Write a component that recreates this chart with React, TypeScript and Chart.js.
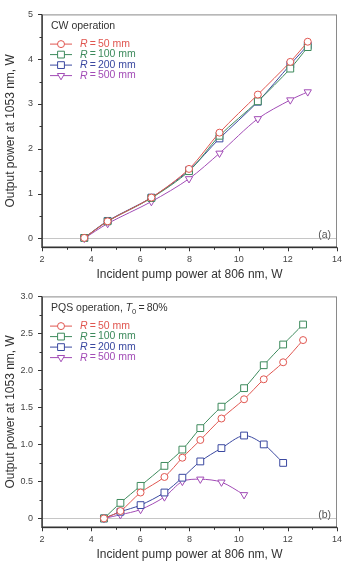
import React, { useEffect, useRef } from 'react';
import { Chart, registerables } from 'chart.js';
import { drawPoint } from 'chart.js/helpers';

Chart.register(...registerables);

const FONT = '"Liberation Sans", Arial, Helvetica, sans-serif';

// ---------- data ----------
const xTicks = [2, 4, 6, 8, 10, 12, 14];
const xTickLabels = ['2', '4', '6', '8', '10', '12', '14'];
const xMinorTicks = [3, 5, 7, 9, 11, 13];

const cwYTicks = [0, 1, 2, 3, 4, 5];
const cwYTickLabels = ['0', '1', '2', '3', '4', '5'];
const cwYMinorTicks = [0.5, 1.5, 2.5, 3.5, 4.5];

const pqsYTicks = [0, 0.5, 1, 1.5, 2, 2.5, 3];
const pqsYTickLabels = ['0', '0.5', '1.0', '1.5', '2.0', '2.5', '3.0'];
const pqsYMinorTicks = [0.25, 0.75, 1.25, 1.75, 2.25, 2.75];

const radiiMm = ['50', '100', '200', '500'];

// CW operation
const cwPump = [3.72, 4.67, 6.45, 7.98, 9.22, 10.78, 12.1, 12.81];
const cwR50 = [0.01, 0.38, 0.91, 1.55, 2.36, 3.21, 3.94, 4.39];
const cwR100 = [0.01, 0.38, 0.9, 1.5, 2.29, 3.06, 3.79, 4.27];
const cwR200 = [0.01, 0.39, 0.91, 1.52, 2.23, 3.05, 3.88, 4.31];
const cwR500 = [0.0, 0.33, 0.82, 1.33, 1.9, 2.67, 3.09, 3.27];

// PQS operation, T0 = 80%
const pqsPump = [4.52, 5.19, 6.01, 6.98, 7.71, 8.44, 9.3, 10.22, 11.02, 11.81, 12.62];
const pqsR50 = [0.0, 0.1, 0.35, 0.56, 0.82, 1.06, 1.35, 1.61, 1.88, 2.11, 2.41];
const pqsR100 = [0.0, 0.21, 0.44, 0.71, 0.93, 1.22, 1.51, 1.76, 2.07, 2.35, 2.62];
const pqsR200 = [0.0, 0.09, 0.18, 0.35, 0.55, 0.77, 0.95, 1.12, 1.0, 0.75];
const pqsR500 = [0.0, 0.05, 0.12, 0.29, 0.5, 0.53, 0.49, 0.32];

// ---------- styles ----------
const COLORS = ['#e05650', '#3d8a5c', '#3a48a0', '#a24cb6'];
const STYLES = [
  { pointStyle: 'circle', radius: 3.5, rotation: 0 },
  { pointStyle: 'rect', radius: 4.8, rotation: 0 },
  { pointStyle: 'rect', radius: 4.8, rotation: 0 },
  { pointStyle: 'triangle', radius: 4.2, rotation: 180 },
];

type Seg = { t: string; italic?: boolean; sub?: boolean };

type Spec = {
  height: number;
  plotTop: number;
  plotBottom: number;
  yMin: number;
  yMax: number;
  yTicks: number[];
  yTickLabels: string[];
  yMinor: number[];
  pump: number[];
  series: number[][];
  header: Seg[];
  corner: string;
};

const cwSpec: Spec = {
  height: 282,
  plotTop: 11,
  plotBottom: 247.3,
  yMin: -0.2,
  yMax: 5,
  yTicks: cwYTicks,
  yTickLabels: cwYTickLabels,
  yMinor: cwYMinorTicks,
  pump: cwPump,
  series: [cwR50, cwR100, cwR200, cwR500],
  header: [{ t: 'CW operation' }],
  corner: '(a)',
};

const pqsSpec: Spec = {
  height: 280,
  plotTop: 9,
  plotBottom: 245.3,
  yMin: -0.12,
  yMax: 3,
  yTicks: pqsYTicks,
  yTickLabels: pqsYTickLabels,
  yMinor: pqsYMinorTicks,
  pump: pqsPump,
  series: [pqsR50, pqsR100, pqsR200, pqsR500],
  header: [
    { t: 'PQS operation, ' },
    { t: 'T', italic: true },
    { t: '0', sub: true },
    { t: '\u2009=\u200980%' },
  ],
  corner: '(b)',
};

function drawSegs(ctx: CanvasRenderingContext2D, segs: Seg[], x: number, y: number, color: string, size: number) {
  let cx = x;
  for (const s of segs) {
    const fs = s.sub ? size * 0.72 : size;
    ctx.font = `${s.italic ? 'italic ' : ''}${fs}px ${FONT}`;
    ctx.fillStyle = color;
    ctx.textAlign = 'left';
    ctx.textBaseline = 'middle';
    ctx.fillText(s.t, cx, y + (s.sub ? size * 0.32 : 0));
    cx += ctx.measureText(s.t).width;
  }
}

function makeConfig(spec: Spec): any {
  const datasets = spec.series.map((vals, i) => ({
    label: `R = ${radiiMm[i]} mm`,
    data: vals.map((y, j) => ({ x: spec.pump[j], y })),
    borderColor: COLORS[i],
    backgroundColor: '#ffffff',
    pointBackgroundColor: '#ffffff',
    pointBorderColor: COLORS[i],
    pointStyle: STYLES[i].pointStyle,
    pointRadius: STYLES[i].radius,
    pointRotation: STYLES[i].rotation,
    pointBorderWidth: 1,
    borderWidth: 1,
    tension: 0.3,
    clip: false,
  }));

  const decor = {
    id: 'decor',
    beforeDatasetsDraw(chart: any) {
      const ctx = chart.ctx as CanvasRenderingContext2D;
      const { left, right } = chart.chartArea;
      const y0 = Math.round(chart.scales.y.getPixelForValue(0)) + 0.5;
      ctx.save();
      ctx.strokeStyle = '#c6c6c6';
      ctx.lineWidth = 1;
      ctx.beginPath();
      ctx.moveTo(left, y0);
      ctx.lineTo(right, y0);
      ctx.stroke();
      ctx.restore();
    },
    afterDatasetsDraw(chart: any) {
      const ctx = chart.ctx as CanvasRenderingContext2D;
      const { left, right, top, bottom } = chart.chartArea;
      const xs = chart.scales.x;
      const ys = chart.scales.y;
      ctx.save();
      // frame
      ctx.strokeStyle = '#8a8a8a';
      ctx.lineWidth = 1;
      ctx.strokeRect(left + 0.5, top + 0.5, right - left - 1, bottom - top);
      ctx.strokeStyle = '#333333';
      ctx.lineWidth = 1.4;
      ctx.beginPath();
      ctx.moveTo(left, top);
      ctx.lineTo(left, bottom);
      ctx.lineTo(right, bottom);
      ctx.stroke();
      // ticks
      ctx.lineWidth = 1;
      ctx.strokeStyle = '#333333';
      ctx.beginPath();
      for (const v of xTicks) {
        const p = Math.round(xs.getPixelForValue(v)) + 0.5;
        ctx.moveTo(p, bottom);
        ctx.lineTo(p, bottom + 4);
      }
      for (const v of xMinorTicks) {
        const p = Math.round(xs.getPixelForValue(v)) + 0.5;
        ctx.moveTo(p, bottom);
        ctx.lineTo(p, bottom + 2.5);
      }
      for (const v of spec.yTicks) {
        const p = Math.round(ys.getPixelForValue(v)) + 0.5;
        ctx.moveTo(left, p);
        ctx.lineTo(left - 4, p);
      }
      for (const v of spec.yMinor) {
        const p = Math.round(ys.getPixelForValue(v)) + 0.5;
        ctx.moveTo(left, p);
        ctx.lineTo(left - 2.5, p);
      }
      ctx.stroke();

      // header and legend
      drawSegs(ctx, spec.header, left + 9, top + 11.7, '#333333', 10.5);
      chart.data.datasets.forEach((ds: any, i: number) => {
        const y = top + 29.7 + i * 10.5;
        ctx.strokeStyle = COLORS[i];
        ctx.lineWidth = 1;
        ctx.beginPath();
        ctx.moveTo(left + 8, y);
        ctx.lineTo(left + 30, y);
        ctx.stroke();
        ctx.fillStyle = '#ffffff';
        ctx.strokeStyle = COLORS[i];
        drawPoint(ctx, {
          pointStyle: STYLES[i].pointStyle as any,
          radius: STYLES[i].radius,
          rotation: STYLES[i].rotation,
          borderWidth: 1,
        } as any, left + 19, y);
        drawSegs(ctx, [{ t: 'R', italic: true }, { t: `\u2009=\u2009${radiiMm[i]} mm` }], left + 38, y, COLORS[i], 10.5);
      });

      // corner label
      ctx.font = `10.5px ${FONT}`;
      ctx.fillStyle = '#555555';
      ctx.textAlign = 'right';
      ctx.textBaseline = 'middle';
      ctx.fillText(spec.corner, right - 6, ys.getPixelForValue(0) - 3);
      ctx.restore();
    },
  };

  return {
    type: 'line',
    data: { datasets },
    options: {
      animation: false,
      responsive: false,
      devicePixelRatio: 1,
      events: [],
      layout: { padding: { top: spec.plotTop, right: 6, bottom: 0, left: 0 } },
      plugins: { legend: { display: false }, tooltip: { enabled: false } },
      scales: {
        x: {
          type: 'linear',
          position: 'bottom',
          min: 2,
          max: 14,
          afterBuildTicks: (s: any) => {
            s.ticks = xTicks.map((v) => ({ value: v }));
          },
          afterFit: (s: any) => {
            s.height = spec.height - spec.plotBottom;
          },
          grid: { display: false, drawTicks: false },
          border: { display: false },
          ticks: {
            padding: 7,
            color: '#444444',
            font: { family: FONT, size: 9 },
            maxRotation: 0,
            autoSkip: false,
            callback: (_v: any, i: number) => xTickLabels[i],
          },
          title: {
            display: true,
            text: 'Incident pump power at 806 nm, W',
            color: '#333333',
            font: { family: FONT, size: 12 },
            padding: { top: 0, bottom: 0 },
          },
        },
        y: {
          type: 'linear',
          min: spec.yMin,
          max: spec.yMax,
          afterBuildTicks: (s: any) => {
            s.ticks = spec.yTicks.map((v) => ({ value: v }));
          },
          afterFit: (s: any) => {
            s.width = 42;
          },
          grid: { display: false, drawTicks: false },
          border: { display: false },
          ticks: {
            padding: 9,
            color: '#444444',
            font: { family: FONT, size: 9 },
            autoSkip: false,
            callback: (_v: any, i: number) => spec.yTickLabels[i],
          },
          title: {
            display: true,
            text: 'Output power at 1053 nm, W',
            color: '#333333',
            font: { family: FONT, size: 12 },
            padding: { top: 3, bottom: 0 },
          },
        },
      },
    },
    plugins: [decor],
  };
}

function Panel({ spec }: { spec: Spec }) {
  const ref = useRef<HTMLCanvasElement>(null);
  useEffect(() => {
    if (!ref.current) return;
    const chart = new Chart(ref.current, makeConfig(spec));
    return () => chart.destroy();
  }, [spec]);
  return (
    <canvas
      ref={ref}
      width={349}
      height={spec.height}
      style={{ display: 'block', width: 349, height: spec.height }}
    />
  );
}

export default function App() {
  return (
    <div style={{ position: 'fixed', left: 0, top: 0, width: 349, height: 562, background: '#ffffff' }}>
      <Panel spec={cwSpec} />
      <Panel spec={pqsSpec} />
    </div>
  );
}
